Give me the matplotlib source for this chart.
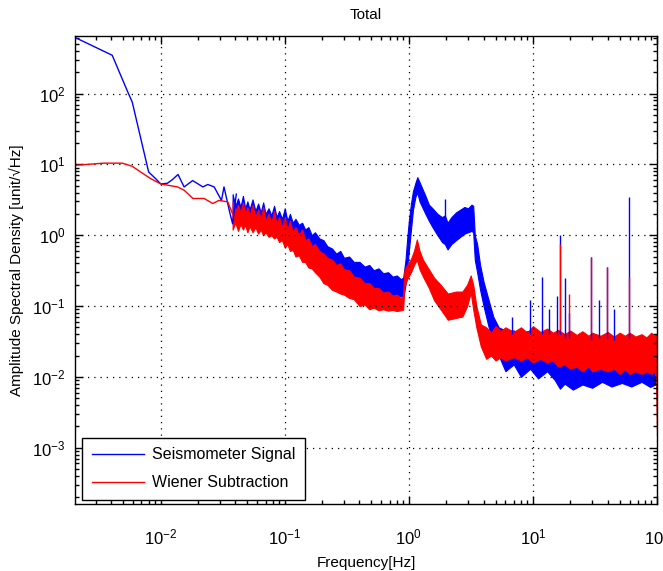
import matplotlib
matplotlib.use("Agg")
import matplotlib.pyplot as plt
from matplotlib.ticker import LogLocator

plt.rcParams['font.family'] = ['Liberation Sans', 'DejaVu Sans']
plt.rcParams['mathtext.fontset'] = 'custom'
plt.rcParams['mathtext.rm'] = 'Liberation Sans'

# ────────────────────────────────────────────────────────
# Data
# ────────────────────────────────────────────────────────
# low-frequency part, drawn as plain lines
blue_trace_f = [0.00204, 0.00407, 0.0055, 0.0059, 0.0080, 0.0091, 0.0100, 0.0113, 0.01245,
                0.0138, 0.01545, 0.0181, 0.0200, 0.0219, 0.0240, 0.0270, 0.0309, 0.0324,
                0.0358, 0.0380, 0.0407]
blue_trace_a = [620, 347, 100, 76, 7.8, 6.3, 5.3, 5.4, 6.1, 7.2, 4.8, 5.9, 5.3, 4.8, 5.2,
                4.8, 3.1, 4.8, 2.2, 1.45, 3.8]

red_trace_f = [0.00204, 0.00347, 0.0049, 0.0059, 0.0069, 0.0083, 0.0100, 0.0120, 0.0137,
               0.0155, 0.0182, 0.0224, 0.0263, 0.0295, 0.0347, 0.0380]
red_trace_a = [9.7, 10.4, 10.4, 9.4, 7.8, 6.3, 5.3, 5.0, 4.8, 4.3, 3.3, 3.3, 2.8, 3.1, 2.95, 2.0]

# noisy part: envelope (low / high) of each trace
blue_band_f = [0.038, 0.040, 0.042, 0.044, 0.046, 0.048, 0.050, 0.052, 0.055, 0.058, 0.061,
               0.064, 0.067, 0.070, 0.074, 0.078, 0.082, 0.086, 0.090, 0.095, 0.100, 0.105,
               0.11, 0.116, 0.122, 0.13, 0.138, 0.146, 0.155, 0.165, 0.175, 0.19, 0.205,
               0.22, 0.24, 0.26, 0.28, 0.30, 0.33, 0.36, 0.40, 0.44, 0.48, 0.52, 0.57, 0.62,
               0.68, 0.74, 0.80, 0.86, 0.90,
               0.94, 0.97, 1.00, 1.04, 1.08, 1.13, 1.17, 1.22, 1.28, 1.36, 1.45, 1.55, 1.70,
               1.85, 1.95, 2.05, 2.2, 2.4, 2.6, 2.8, 3.0, 3.2, 3.3, 3.4, 3.55, 3.75, 4.0,
               4.4, 4.8,
               5.3, 6.0, 7.0, 8.0, 9.5, 11, 13, 15, 16.5, 18, 21, 25, 30, 36, 43, 52, 62,
               75, 88, 100]
blue_band_hi = [3.8, 2.6, 3.3, 2.5, 3.6, 2.4, 3.0, 2.3, 3.2, 2.2, 2.8,
                2.1, 2.9, 2.0, 2.4, 1.9, 2.6, 1.8, 2.2, 1.7, 2.4, 1.6,
                2.0, 1.5, 1.7, 1.4, 1.5, 1.2, 1.3, 1.0, 1.1, 0.9, 0.85,
                0.7, 0.65, 0.55, 0.6, 0.48, 0.5, 0.42, 0.42, 0.36, 0.38, 0.32, 0.34, 0.29,
                0.30, 0.26, 0.27, 0.24, 0.25,
                0.45, 0.9, 1.6, 2.8, 4.2, 5.5, 6.6, 5.6, 4.6, 3.6, 2.7, 2.4, 2.0,
                1.8, 1.9, 1.5, 1.8, 2.1, 2.3, 2.5, 2.4, 2.7, 2.6, 1.0, 0.75, 0.38, 0.22,
                0.12, 0.07,
                0.05, 0.045, 0.045, 0.042, 0.045, 0.04, 0.042, 0.04, 0.04, 0.035, 0.035,
                0.033, 0.035, 0.034, 0.033, 0.035, 0.034, 0.033, 0.035, 0.03]
blue_band_lo = [1.5, 1.9, 1.3, 1.8, 1.35, 1.7, 1.2, 1.6, 1.25, 1.5, 1.1,
                1.4, 1.15, 1.3, 1.0, 1.25, 1.05, 1.2, 0.95, 1.1, 0.9, 1.0,
                0.8, 0.9, 0.72, 0.8, 0.62, 0.65, 0.5, 0.55, 0.42, 0.40, 0.32,
                0.3, 0.24, 0.25, 0.21, 0.22, 0.19, 0.2, 0.17, 0.18, 0.16, 0.17, 0.15, 0.155,
                0.14, 0.145, 0.13, 0.14, 0.13,
                0.2, 0.35, 0.6, 1.2, 2.3, 3.5, 4.0, 3.0, 2.5, 2.0, 1.6, 1.3, 1.0,
                0.8, 0.75, 0.63, 0.75, 0.85, 0.95, 1.05, 1.1, 1.15, 1.1, 0.45, 0.3, 0.17, 0.1,
                0.05, 0.03,
                0.02, 0.012, 0.015, 0.010, 0.013, 0.0095, 0.012, 0.009, 0.0068, 0.008, 0.0066,
                0.0078, 0.007, 0.0085, 0.0073, 0.0082, 0.0073, 0.0085, 0.0072, 0.008]

red_band_f = [0.038, 0.040, 0.042, 0.044, 0.046, 0.048, 0.050, 0.052, 0.055, 0.058, 0.061,
              0.064, 0.067, 0.070, 0.074, 0.078, 0.082, 0.086, 0.090, 0.095, 0.100, 0.105,
              0.11, 0.116, 0.122, 0.13, 0.138, 0.146, 0.155, 0.165, 0.175, 0.19, 0.205,
              0.22, 0.24, 0.26, 0.28, 0.30, 0.33, 0.36, 0.40, 0.44, 0.48, 0.52, 0.57, 0.62,
              0.68, 0.74, 0.80, 0.86, 0.90,
              0.92, 0.97, 1.04, 1.10, 1.16, 1.22, 1.30, 1.45, 1.6, 1.8, 2.06, 2.4, 2.7,
              2.95, 3.15, 3.3, 3.5, 3.8,
              4.2, 4.6, 5.0, 5.5, 6.0, 7.0, 8.0, 9.0, 10, 11.5, 13, 14.5, 16, 18, 20, 22.5,
              25, 28, 30, 35, 40, 45, 50, 55, 60, 67, 75, 82, 90, 95, 98, 100]
red_band_hi = [3.0, 2.2, 2.7, 2.1, 2.9, 2.0, 2.5, 1.9, 2.7, 1.8, 2.3,
               1.7, 2.5, 1.6, 2.0, 1.5, 2.2, 1.4, 1.8, 1.3, 1.8, 1.2,
               1.6, 1.1, 1.3, 1.0, 1.2, 0.85, 0.9, 0.7, 0.75, 0.6, 0.55,
               0.48, 0.45, 0.38, 0.40, 0.33, 0.32, 0.26, 0.25, 0.21, 0.21, 0.18, 0.18, 0.155,
               0.16, 0.14, 0.145, 0.13, 0.14,
               0.32, 0.38, 0.46, 0.6, 0.87, 0.6, 0.45, 0.33, 0.25, 0.2, 0.15, 0.16, 0.16,
               0.2, 0.27, 0.2, 0.1, 0.055,
               0.05, 0.042, 0.052, 0.044, 0.05, 0.043, 0.05, 0.042, 0.052, 0.043, 0.048,
               0.042, 0.046, 0.04, 0.045, 0.039, 0.044, 0.038, 0.042, 0.038, 0.043, 0.037,
               0.042, 0.038, 0.042, 0.037, 0.04, 0.036, 0.042, 0.038, 0.04, 0.035]
red_band_lo = [1.2, 1.5, 1.15, 1.45, 1.2, 1.4, 1.1, 1.35, 1.1, 1.3, 1.05,
               1.2, 1.0, 1.1, 0.95, 1.0, 0.9, 0.95, 0.8, 0.85, 0.67, 0.75,
               0.6, 0.62, 0.5, 0.52, 0.42, 0.42, 0.35, 0.34, 0.3, 0.26, 0.21,
               0.2, 0.17, 0.16, 0.15, 0.145, 0.13, 0.125, 0.1, 0.105, 0.09, 0.095, 0.087, 0.09,
               0.086, 0.088, 0.085, 0.087, 0.089,
               0.19, 0.24, 0.3, 0.38, 0.45, 0.33, 0.26, 0.18, 0.12, 0.09, 0.064, 0.068, 0.071,
               0.1, 0.155, 0.09, 0.05, 0.027,
               0.018, 0.02, 0.017, 0.019, 0.017, 0.019, 0.017, 0.019, 0.016, 0.018, 0.016,
               0.017, 0.014, 0.015, 0.013, 0.014, 0.012, 0.014, 0.012, 0.013, 0.012, 0.013,
               0.011, 0.013, 0.011, 0.012, 0.011, 0.012, 0.011, 0.012, 0.01, 0.0015]

# narrow lines (spikes): frequency, foot (band level) and top
blue_spike_f = [1.95, 6.8, 9.5, 11.9, 13.4, 15.7, 16.5, 18.0, 19.5, 29.2, 34.0, 39.8, 45.0, 59.7]
blue_spike_base = [1.5, 0.04, 0.04, 0.04, 0.04, 0.04, 0.04, 0.035, 0.035, 0.033, 0.035,
                   0.034, 0.033, 0.034]
blue_spike_a = [3.2, 0.07, 0.12, 0.26, 0.09, 0.14, 1.02, 0.25, 0.08, 0.5, 0.12, 0.35, 0.09, 3.5]
red_spike_f = [16.5, 19.5, 29.2, 39.8, 59.7]
red_spike_base = [0.046, 0.045, 0.042, 0.043, 0.042]
red_spike_a = [0.75, 0.15, 0.5, 0.35, 0.26]

BLUE = '#0000ff'
RED = '#ff0000'

# ────────────────────────────────────────────────────────
# Figure
# ────────────────────────────────────────────────────────
fig = plt.figure(figsize=(6.63, 5.71), dpi=100)
ax = fig.add_axes([0.1131, 0.1173, 0.8779, 0.8197])

ax.plot(blue_trace_f, blue_trace_a, color=BLUE, lw=1.0, label='Seismometer Signal')
ax.fill_between(blue_band_f, blue_band_lo, blue_band_hi, color=BLUE, lw=0.8)
ax.vlines(blue_spike_f, blue_spike_base, blue_spike_a, color=BLUE, lw=1.0)

ax.plot(red_trace_f, red_trace_a, color=RED, lw=1.0, label='Wiener Subtraction')
ax.fill_between(red_band_f, red_band_lo, red_band_hi, color=RED, lw=0.8)
ax.vlines(red_spike_f, red_spike_base, red_spike_a, color=RED, lw=1.0)

ax.set_xscale('log')
ax.set_yscale('log')
ax.set_xlim(2.04e-3, 100)
ax.set_ylim(1.6e-4, 650)

ax.xaxis.set_major_locator(LogLocator(base=10, numticks=20))
ax.yaxis.set_major_locator(LogLocator(base=10, numticks=20))
ax.xaxis.set_minor_locator(LogLocator(base=10, subs=range(2, 10), numticks=20))
ax.yaxis.set_minor_locator(LogLocator(base=10, subs=range(2, 10), numticks=20))

ax.tick_params(which='both', direction='in', top=True, right=True, width=1.0)
ax.tick_params(which='major', length=6, labelsize=12)
ax.tick_params(which='minor', length=3)
ax.tick_params(axis='y', pad=7)
ax.tick_params(axis='x', pad=17)

ax.grid(True, which='major', color='black', linestyle=(0, (1, 4)), lw=0.9)
for s in ax.spines.values():
    s.set_linewidth(1.0)

ax.set_title('Total', fontsize=11, pad=12)
ax.set_xlabel('Frequency[Hz]', fontsize=11, labelpad=6)
ax.set_ylabel('Amplitude Spectral Density [unit/\u221aHz]', fontsize=11, labelpad=6)

leg = ax.legend(loc='lower left', bbox_to_anchor=(0.012, 0.009), borderaxespad=0,
                fontsize=11.5, fancybox=False, edgecolor='black', framealpha=1,
                handlelength=3.3, handletextpad=0.5, borderpad=0.6, labelspacing=0.8)
leg.get_frame().set_linewidth(1.0)

fig.savefig('out.png', dpi=100)
